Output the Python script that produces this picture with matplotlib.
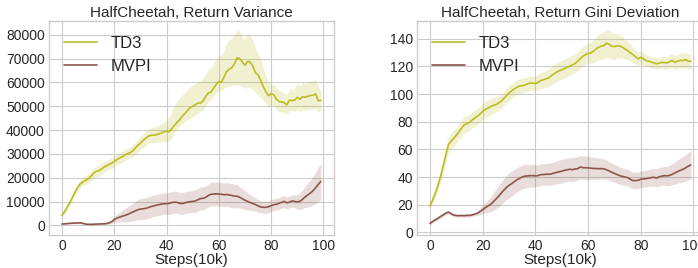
import matplotlib
matplotlib.use("Agg")
import matplotlib.pyplot as plt
import numpy as np

plt.style.use("seaborn-v0_8-whitegrid")
plt.rcParams["font.family"] = ["Liberation Sans", "DejaVu Sans"]

steps = np.arange(100)

# Return Variance (in thousands)
td3_var = [4.3, 5.8, 7.6, 9.6, 11.8, 14.0, 16.0, 17.4, 18.3, 18.9,
           19.5, 20.6, 21.8, 22.6, 22.9, 23.6, 24.4, 25.0, 25.6, 26.1,
           26.9, 27.6, 28.3, 28.8, 29.5, 30.1, 30.5, 31.2, 32.4, 33.6,
           34.5, 35.6, 36.6, 37.4, 37.8, 37.9, 38.0, 38.4, 38.8, 39.3,
           39.5, 39.4, 40.6, 41.9, 43.2, 44.3, 45.8, 47.0, 48.2, 49.4,
           50.0, 50.6, 51.4, 51.3, 52.3, 54.2, 55.6, 55.9, 57.6, 59.2,
           60.4, 60.0, 62.3, 64.6, 65.6, 66.2, 67.9, 70.3, 70.0, 68.6,
           67.2, 68.9, 68.5, 66.8, 64.0, 63.2, 60.8, 58.3, 56.0, 54.4,
           55.3, 54.8, 53.0, 52.0, 51.8, 51.5, 50.6, 52.6, 52.4, 52.5,
           53.8, 52.9, 54.0, 53.8, 54.2, 54.5, 54.6, 55.2, 52.3, 52.5]
td3_var_hi = [5.0, 6.8, 8.8, 10.9, 13.2, 15.5, 17.6, 19.1, 20.1, 20.8,
              21.5, 22.6, 23.9, 24.7, 25.1, 25.8, 26.6, 27.2, 27.8, 28.3,
              29.1, 29.8, 30.5, 31.0, 31.8, 32.4, 32.9, 33.7, 34.9, 36.2,
              37.2, 38.4, 39.5, 40.4, 40.9, 41.2, 41.5, 42.0, 42.6, 43.2,
              44.2, 45.6, 48.0, 50.4, 52.2, 53.4, 54.7, 55.8, 57.0, 58.2,
              59.0, 59.6, 60.4, 60.8, 62.0, 63.8, 65.4, 66.2, 68.2, 70.0,
              71.0, 71.6, 73.8, 76.4, 78.0, 78.6, 80.2, 81.8, 81.4, 78.8,
              78.2, 80.4, 79.8, 77.6, 74.4, 72.0, 69.6, 66.0, 62.6, 60.2,
              58.8, 59.4, 57.6, 56.4, 56.0, 55.6, 54.8, 57.4, 57.0, 57.6,
              59.6, 58.6, 60.0, 59.6, 60.2, 60.6, 60.8, 61.3, 58.6, 56.2]
td3_var_lo = [3.6, 4.9, 6.5, 8.4, 10.4, 12.6, 14.5, 15.8, 16.6, 17.1,
              17.6, 18.6, 19.8, 20.5, 20.8, 21.4, 22.2, 22.8, 23.4, 23.8,
              24.6, 25.3, 26.0, 26.5, 27.1, 27.7, 28.1, 28.7, 29.9, 31.0,
              31.8, 32.8, 33.7, 34.4, 34.8, 34.8, 34.8, 35.1, 35.2, 35.2,
              35.1, 35.4, 36.8, 38.8, 40.6, 41.6, 42.8, 43.6, 44.4, 45.0,
              45.5, 46.2, 47.2, 47.6, 48.6, 50.4, 51.8, 52.6, 54.4, 55.6,
              56.3, 56.8, 57.6, 58.2, 58.5, 58.6, 58.8, 58.8, 58.8, 58.2,
              57.4, 58.0, 57.8, 57.0, 55.8, 54.8, 53.6, 52.4, 51.2, 50.2,
              50.4, 50.2, 48.8, 47.8, 47.6, 47.4, 46.6, 48.2, 48.0, 47.8,
              48.6, 47.8, 48.6, 48.4, 48.6, 48.8, 48.8, 49.2, 47.6, 48.4]
mvpi_var = [0.6, 0.7, 0.8, 0.9, 1.0, 1.0, 1.1, 1.1, 0.9, 0.6,
            0.5, 0.5, 0.5, 0.6, 0.6, 0.7, 0.7, 0.8, 1.1, 1.6,
            2.5, 3.1, 3.5, 3.9, 4.2, 4.6, 5.1, 5.6, 6.1, 6.6,
            6.9, 7.0, 7.2, 7.5, 7.9, 8.2, 8.5, 8.7, 9.0, 9.1,
            9.2, 9.3, 9.6, 9.8, 9.7, 9.3, 9.2, 9.5, 9.8, 10.0,
            10.1, 10.3, 10.8, 11.3, 11.4, 11.8, 12.6, 13.1, 13.2, 13.3,
            13.2, 13.1, 12.9, 13.0, 12.8, 12.6, 12.3, 12.3, 11.8, 11.2,
            10.6, 10.1, 9.6, 9.2, 8.8, 8.2, 7.8, 7.6, 7.6, 7.9,
            8.3, 8.7, 8.9, 9.3, 9.7, 10.1, 9.5, 9.8, 10.3, 10.1,
            9.9, 10.1, 11.0, 12.0, 12.8, 13.6, 14.6, 15.8, 17.2, 18.5]
mvpi_var_sd = [0.3, 0.3, 0.3, 0.3, 0.3, 0.3, 0.3, 0.3, 0.3, 0.3,
               0.3, 0.3, 0.3, 0.3, 0.3, 0.3, 0.3, 0.3, 0.5, 0.8,
               1.2, 1.6, 2.0, 2.4, 2.8, 3.1, 3.4, 3.7, 4.0, 4.2,
               4.4, 4.5, 4.5, 4.5, 4.5, 4.5, 4.5, 4.5, 4.5, 4.5,
               4.5, 4.6, 4.6, 4.6, 4.6, 4.6, 4.6, 4.6, 4.6, 4.6,
               4.6, 4.8, 4.8, 4.8, 4.8, 4.8, 4.8, 5.0, 5.0, 5.0,
               5.0, 5.0, 5.0, 5.0, 5.0, 5.0, 5.0, 4.8, 4.5, 4.2,
               3.9, 3.6, 3.3, 3.0, 2.8, 2.6, 2.5, 2.5, 2.5, 2.5,
               2.5, 2.5, 2.5, 2.5, 2.5, 2.5, 2.5, 2.5, 2.5, 2.7,
               3.0, 3.4, 3.9, 4.4, 5.0, 5.5, 6.0, 6.6, 7.2, 7.6]

# Return Gini Deviation
td3_gini = [19.1, 23.5, 28.3, 34.0, 40.4, 48.0, 56.0, 63.5, 66.0, 68.0,
            70.2, 72.8, 75.4, 77.8, 78.6, 79.5, 81.3, 82.6, 84.0, 85.6,
            87.5, 88.9, 90.0, 91.0, 91.8, 92.4, 93.6, 94.8, 96.8, 98.8,
            100.8, 102.4, 103.8, 105.0, 105.8, 106.1, 106.6, 107.4, 108.0, 107.9,
            107.6, 108.6, 109.8, 110.4, 111.0, 111.7, 113.2, 114.6, 115.8, 116.8,
            117.7, 118.4, 119.4, 120.2, 121.2, 122.1, 123.8, 125.6, 127.4, 128.6,
            129.4, 129.8, 131.0, 132.6, 134.0, 134.7, 135.2, 136.8, 136.0, 134.7,
            134.4, 135.0, 134.8, 134.0, 132.6, 131.5, 130.0, 128.6, 127.0, 125.5,
            126.7, 125.6, 124.3, 123.8, 123.2, 122.6, 121.9, 122.4, 123.0, 122.8,
            122.6, 123.6, 124.3, 123.0, 123.8, 124.5, 124.2, 125.0, 123.8, 123.8]
td3_gini_sd = [1.5, 2.2, 3.0, 3.8, 4.5, 5.0, 5.5, 5.8, 5.8, 5.8,
               5.8, 5.8, 5.8, 5.8, 5.8, 5.8, 5.8, 5.8, 5.8, 5.8,
               5.8, 5.8, 5.8, 5.8, 5.8, 5.6, 5.4, 5.2, 5.2, 5.2,
               5.2, 5.2, 5.2, 5.2, 5.2, 5.2, 5.2, 5.2, 5.2, 5.2,
               5.4, 5.6, 5.8, 6.0, 6.2, 6.4, 6.5, 6.6, 6.7, 6.8,
               6.8, 6.8, 6.9, 6.9, 7.0, 7.0, 7.0, 7.1, 7.1, 7.2,
               7.2, 7.6, 8.2, 8.8, 9.4, 9.6, 9.8, 10.0, 10.0, 9.8,
               9.6, 9.0, 8.4, 7.8, 7.2, 6.6, 6.0, 5.4, 5.0, 4.8,
               4.6, 4.4, 4.2, 4.0, 4.0, 4.0, 4.0, 4.0, 4.2, 4.4,
               4.6, 4.8, 5.0, 5.0, 5.2, 5.4, 5.5, 5.5, 5.5, 5.5]
mvpi_gini = [6.5, 7.8, 9.0, 10.2, 11.4, 12.6, 13.8, 14.6, 13.4, 12.4,
             12.1, 12.0, 12.1, 12.0, 12.2, 12.2, 12.6, 13.1, 13.8, 15.0,
             16.4, 17.8, 19.0, 20.2, 22.0, 24.0, 26.0, 28.3, 30.4, 32.4,
             34.0, 35.2, 36.6, 38.0, 39.0, 40.0, 40.6, 40.8, 41.0, 41.0,
             40.8, 41.0, 41.7, 41.8, 42.0, 42.0, 42.2, 42.8, 43.3, 43.8,
             44.2, 44.8, 45.2, 45.6, 45.3, 45.8, 46.0, 47.2, 46.8, 46.7,
             46.6, 46.4, 46.2, 46.2, 46.0, 46.1, 45.9, 45.2, 44.4, 43.4,
             42.6, 41.8, 41.0, 40.4, 40.0, 39.6, 38.4, 37.4, 37.4, 37.6,
             38.4, 38.6, 38.8, 39.2, 39.6, 39.8, 39.2, 40.2, 40.6, 41.0,
             40.8, 41.2, 42.0, 43.0, 44.0, 44.8, 45.6, 46.6, 47.8, 48.8]
mvpi_gini_sd = [1.2, 1.2, 1.2, 1.2, 1.2, 1.2, 1.2, 1.2, 1.2, 1.2,
                1.2, 1.2, 1.2, 1.2, 1.2, 1.2, 1.2, 1.2, 1.6, 2.2,
                3.0, 3.8, 4.6, 5.4, 6.2, 7.0, 7.6, 8.2, 8.6, 8.8,
                9.0, 9.0, 8.9, 8.8, 8.7, 8.6, 8.5, 8.4, 8.3, 8.2,
                8.0, 7.8, 7.8, 7.8, 7.9, 8.0, 8.1, 8.2, 8.3, 8.4,
                8.5, 8.5, 8.5, 8.5, 8.5, 8.5, 8.5, 8.5, 8.5, 8.5,
                8.4, 8.2, 8.0, 7.8, 7.6, 7.4, 7.2, 7.0, 6.8, 6.6,
                6.5, 6.4, 6.3, 6.2, 6.1, 6.0, 6.0, 6.0, 6.0, 6.0,
                6.0, 6.0, 6.1, 6.2, 6.3, 6.4, 6.5, 6.5, 6.6, 6.8,
                7.0, 7.3, 7.6, 8.0, 8.4, 8.8, 9.2, 9.6, 10.0, 10.4]

c_td3 = "#bcbd22"
c_mvpi = "#8c564b"

fig = plt.figure(figsize=(6.98, 2.68), dpi=100)
ax1 = fig.add_axes([0.0702, 0.123, 0.408, 0.799])
ax2 = fig.add_axes([0.5974, 0.123, 0.411, 0.799])

k = 1000
td3_v = np.array(td3_var) * k
mv_v = np.array(mvpi_var) * k
mv_sd = np.array(mvpi_var_sd) * k
ax1.fill_between(steps, np.array(td3_var_lo) * k, np.array(td3_var_hi) * k,
                 color=c_td3, alpha=0.2, lw=0)
ax1.fill_between(steps, mv_v - mv_sd, mv_v + mv_sd, color=c_mvpi, alpha=0.2, lw=0)
ax1.plot(steps, td3_v, color=c_td3, lw=1.2, label="TD3")
ax1.plot(steps, mv_v, color=c_mvpi, lw=1.2, label="MVPI")
ax1.set_ylim(-4000, 85800)
ax1.set_yticks(np.arange(0, 80001, 10000))
ax1.set_title("HalfCheetah, Return Variance", fontsize=11, pad=3)

tg = np.array(td3_gini)
tg_sd = np.array(td3_gini_sd)
mg = np.array(mvpi_gini)
mg_sd = np.array(mvpi_gini_sd)
ax2.fill_between(steps, tg - tg_sd, tg + tg_sd, color=c_td3, alpha=0.2, lw=0)
ax2.fill_between(steps, mg - mg_sd, mg + mg_sd, color=c_mvpi, alpha=0.2, lw=0)
ax2.plot(steps, tg, color=c_td3, lw=1.2, label="TD3")
ax2.plot(steps, mg, color=c_mvpi, lw=1.2, label="MVPI")
ax2.set_ylim(-2, 153)
ax2.set_yticks(np.arange(0, 141, 20))
ax2.set_title("HalfCheetah, Return Gini Deviation", fontsize=11, pad=3)

for ax in (ax1, ax2):
    ax.set_xlim(-4.95, 103.95)
    ax.set_xticks(np.arange(0, 101, 20))
    ax.set_xlabel("Steps(10k)", fontsize=11, labelpad=0)
    ax.tick_params(labelsize=10, pad=3)
    ax.legend(loc="upper left", frameon=False, fontsize=12)

fig.savefig("out.png", dpi=100)
